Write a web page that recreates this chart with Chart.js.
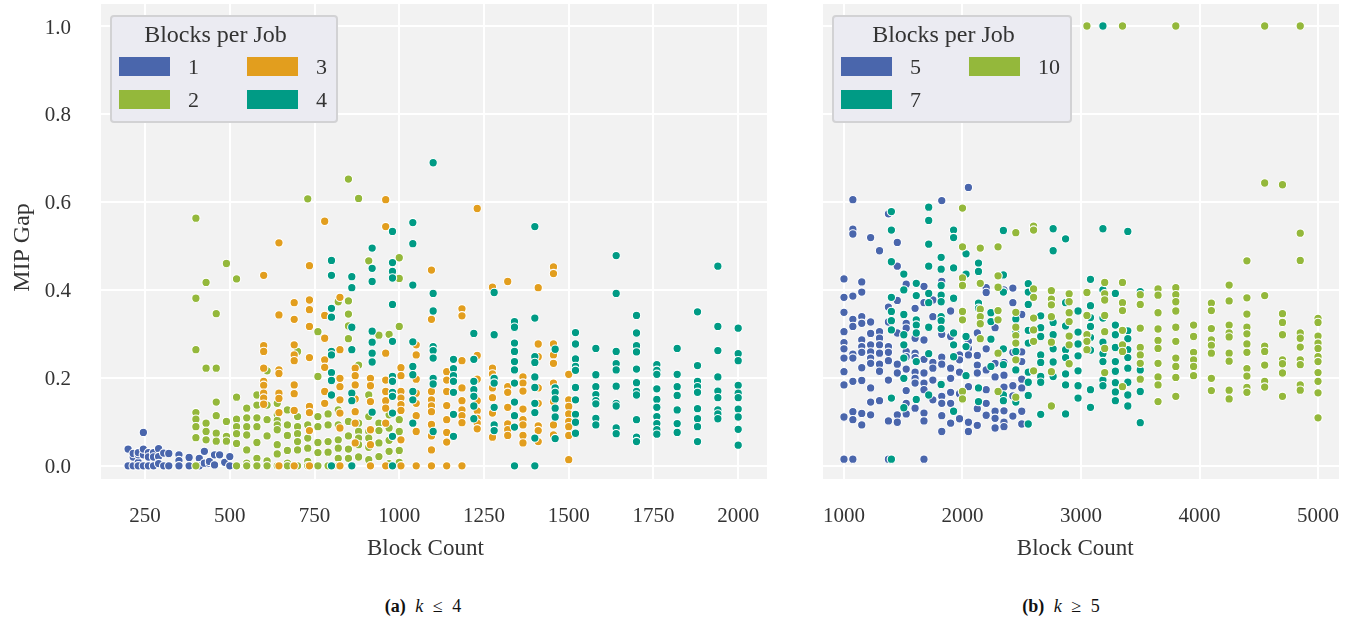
<!DOCTYPE html>
<html>
<head>
<meta charset="utf-8">
<title>MIP Gap</title>
<script src="https://cdn.jsdelivr.net/npm/chart.js@4"></script>
<style>
  html, body { margin: 0; padding: 0; background: #fff; }
  body { position: relative; width: 1347px; height: 621px; overflow: hidden; font-family: "Liberation Serif", serif; color: #333; }
  canvas { position: absolute; top: 0; }
  .legend { position: absolute; top: 15px; height: 104px; background: rgba(234,234,241,0.95); border: 2px solid #d2d2d4; border-radius: 4px; box-sizing: content-box; }
  .legend div { position: absolute; }
  .legend .title { top: 4px; left: 0; right: 17px; text-align: center; font-size: 24px; }
  .legend .swatch { width: 51px; height: 19px; }
  .legend .label { font-size: 22px; line-height: 22px; }
  .caption { position: absolute; top: 596px; font-size: 18px; word-spacing: 5px; text-align: center; width: 200px; color: #111; }
</style>
</head>
<body>
<canvas id="chartA" width="790" height="570" style="left:0"></canvas>
<canvas id="chartB" width="557" height="570" style="left:790px"></canvas>
<div class="caption" style="left:323px"><b>(a)</b> <i>k</i> &le; 4</div>
<div class="caption" style="left:961px"><b>(b)</b> <i>k</i> &ge; 5</div>
<script>
const yTicks = [0, 0.2, 0.4, 0.6, 0.8, 1.0];
const xTicksA = [250, 500, 750, 1000, 1250, 1500, 1750, 2000];
const xTicksB = [1000, 2000, 3000, 4000, 5000];
const legendTitle = 'Blocks per Job';

const colorBlue = '#4A66AC';
const colorGreen = '#94B83B';
const colorOrange = '#E29E1E';
const colorTeal = '#009B85';

// k <= 4, one list of gaps per block count
const job1X = [200, 215, 230, 245, 260, 275, 290, 305, 320, 350, 380, 410, 425, 440, 455, 470, 485, 500];
const job1Y = [
  [0, .038], [.02, .028, 0], [.008, .025, .03, 0], [0, .025, .038, .076], [.03, .02, 0], [0, .03, .02],
  [.039, .021, .005], [.029, 0], [.028, 0], [.025, .012, 0], [.019, 0], [.017, 0], [.033, .006],
  [.006, .01], [.025, .002], [.025], [.008], [.021, 0]
];

const job2X = [400, 430, 460, 490, 520, 550, 580, 610, 640, 670, 700, 730, 760, 790, 820, 850, 880, 910, 940, 970, 1000];
const job2Y = [
  [.563, .381, .264, .121, .106, .089, .064, 0],
  [.417, .222, .097, .078, .059],
  [.346, .222, .145, .114, .074, .056],
  [.46, .101, .067, .056],
  [.425, .156, .106, .089, .073, .051, 0],
  [.131, .109, .089, .07, .036, .006, 0],
  [.161, .138, .109, .089, .053, .017, 0],
  [.216, .138, .105, .068, .011, 0],
  [.142, .116, .103, .093, .082, .048, .027, 0],
  [.127, .093, .069, .035, .006, 0],
  [.26, .112, .089, .073, .055, .036, 0],
  [.607, .093, .063, .04, .01, 0],
  [.305, .203, .112, .089, .053, .03, 0],
  [.118, .093, .055, .031, 0],
  [.373, .127, .093, .059, .04, .017, 0],
  [.652, .375, .345, .318, .289, .101, .068, .038, .017],
  [.608, .229, .097, .078, .063, .048, .02],
  [.466, .161, .112, .078, .063, .042, .014],
  [.297, .097, .08, .052, .021],
  [.299, .116, .086, .058, .033, .005],
  [.473, .426, .317, .105, .078, .035, .008]
];

const job3X = [600, 645, 690, 735, 780, 825, 870, 915, 960, 1005, 1050, 1095, 1140, 1185, 1230, 1275, 1320, 1365, 1410, 1455, 1500];
const job3Y = [
  [.433, .273, .26, .222, .192, .183, .165, .154, .14],
  [.507, .343, .218, .21, .165, .153, .121, 0],
  [.371, .333, .275, .252, .239, .184, .164, .126, 0],
  [.455, .377, .355, .317, .246, .135, .121, .08, 0],
  [.556, .342, .29, .241, .224, .169, .142],
  [.383, .264, .199, .18, .15, .12, .086, 0],
  [.222, .205, .184, .152, .123, .097, .052],
  [.199, .182, .146, .082, .048, 0],
  [.605, .544, .256, .195, .169, .148, .131, .097, 0],
  [.223, .205, .169, .154, .139, .126, .059, 0],
  [.275, .252, .197, .165, .142, .114, .078, 0],
  [.445, .333, .169, .15, .136, .123, .094, .068, .036, 0],
  [.214, .195, .169, .137, .105, .076, .054, 0],
  [.357, .341, .239, .177, .148, .127, .114, .098, 0],
  [.585, .251, .197, .148, .125, .108, .097, .084],
  [.406, .222, .209, .177, .155, .12, .065],
  [.419, .18, .167, .133, .095, .082, .069],
  [.202, .188, .17, .129, .105, .093, .069, .052],
  [.405, .277, .248, .177, .142, .091, .08, .055],
  [.452, .437, .277, .252, .233, .188, .146, .093, .07],
  [.208, .15, .135, .118, .101, .089, .069, .014]
];

const job4X = [800, 860, 920, 980, 1040, 1100, 1160, 1220, 1280, 1340, 1400, 1460, 1520, 1580, 1640, 1700, 1760, 1820, 1880, 1940, 2000];
const job4Y = [
  [.467, .433, .358, .338, .26, .252, .212, .194, .161, 0],
  [.43, .405, .315, .264, .165, .148, 0],
  [.495, .449, .419, .306, .281, .256, .236, .122],
  [.533, .462, .442, .427, .367, .283, .203, .192, .167, .158, .12, .067, 0],
  [.553, .505, .411, .282, .226, .207, .169, .15, .097],
  [.689, .392, .352, .271, .262, .245, .199, .186, .078],
  [.242, .221, .205, .192, .167, .117, .067],
  [.301, .242, .192, .173, .158, .136, .107],
  [.394, .298, .199, .188, .133, .093, .08],
  [.328, .315, .279, .26, .237, .218, .188, .145, .114, .088, 0],
  [.544, .336, .248, .235, .202, .178, .142, .121, .063, 0],
  [.265, .177, .167, .152, .131, .111, .062],
  [.303, .277, .243, .226, .217, .178, .15, .117, .099, .074],
  [.267, .207, .18, .162, .148, .141, .108, .093],
  [.478, .392, .26, .232, .218, .181, .142, .136, .086, .073],
  [.342, .302, .273, .259, .22, .189, .169, .161, .105, .065, .055],
  [.23, .217, .208, .175, .151, .133, .112, .096, .082, .072],
  [.267, .208, .18, .16, .127, .096, .076],
  [.35, .228, .192, .18, .167, .13, .107, .089, .055],
  [.454, .317, .262, .202, .17, .155, .127, .118, .107],
  [.313, .255, .239, .183, .165, .155, .129, .111, .083, .047]
];

// k >= 5
const job5X = [1000, 1075, 1150, 1225, 1300, 1375, 1450, 1525, 1600, 1675, 1750, 1825, 1900, 1975, 2050, 2125, 2200, 2275, 2350, 2425, 2500];
const job5Y = [
  [.425, .383, .349, .305, .28, .266, .245, .214, .184, .111, .015],
  [.605, .538, .527, .386, .333, .317, .254, .245, .192, .123, .105, .015],
  [.418, .395, .339, .324, .286, .271, .258, .223, .194, .119, .093],
  [.519, .327, .301, .275, .259, .245, .233, .177, .145, .116],
  [.489, .305, .29, .275, .256, .231, .215, .148],
  [.573, .361, .327, .271, .258, .239, .195, .102, .015],
  [.508, .454, .376, .302, .231, .211, .116, .099],
  [.413, .324, .313, .26, .248, .22, .171, .142, .118],
  [.358, .29, .256, .246, .213, .199, .188, .131],
  [.408, .371, .286, .242, .211, .188, .173, .12, .102, .015],
  [.377, .339, .235, .222, .195, .15],
  [.603, .419, .299, .247, .231, .158, .142, .114, .078],
  [.352, .294, .222, .199, .167, .142, .097],
  [.252, .241, .213, .164, .107],
  [.633, .283, .267, .252, .18, .099, .078],
  [.302, .251, .229, .211, .13, .092],
  [.405, .394, .266, .218, .173, .142, .115],
  [.314, .233, .202, .124, .108, .086],
  [.4, .235, .206, .179, .125, .099, .089],
  [.404, .371, .258, .182, .159, .113],
  [.344, .259, .237, .197, .177, .124, .095]
];

const job7X = [1400, 1505, 1610, 1715, 1820, 1925, 2030, 2135, 2240, 2345, 2450, 2555, 2660, 2765, 2870, 2975, 3080, 3185, 3290, 3395, 3500];
const job7Y = [
  [.578, .536, .464, .383, .351, .33, .309, .154, .015],
  [.436, .4, .344, .298, .275, .245, .199, .132],
  [.415, .387, .332, .32, .302, .237, .151],
  [.588, .558, .504, .454, .392, .371, .315, .255, .161],
  [.474, .447, .41, .388, .373, .339, .33, .312, .185],
  [.536, .519, .45, .381, .302, .275, .248, .124],
  [.482, .436, .294, .271, .205],
  [.461, .442, .37, .358, .177, .146],
  [.348, .328, .288, .226],
  [.535, .434, .395, .266, .23, .161, .148],
  [.334, .302, .26, .218, .145],
  [.414, .395, .367, .308, .279, .213, .19, .16, .095],
  [.341, .314, .294, .252, .235, .203, .19, .117],
  [.539, .489, .326, .298, .266, .236, .203],
  [.516, .371, .318, .264, .246, .209, .184, .118],
  [.352, .304, .277, .25, .216, .182, .154],
  [.424, .364, .337, .317, .292, .263, .173, .133],
  [1.0, .539, .4, .336, .281, .255, .237, .195, .182],
  [.392, .32, .298, .269, .237, .215, .189, .168, .148],
  [.533, .307, .289, .264, .246, .222, .19, .161, .136],
  [.396, .218, .169, .098]
];

const job10X = [2000, 2150, 2300, 2450, 2600, 2750, 2900, 3050, 3200, 3350, 3500, 3650, 3800, 3950, 4100, 4250, 4400, 4550, 4700, 4850, 5000];
const job10Y = [
  [.586, .498, .427, .41, .351, .332, .169, .152],
  [.495, .415, .356, .339, .323, .289],
  [.498, .432, .406, .353, .332, .256, .169],
  [.53, .349, .315, .296, .279, .241, .156],
  [.545, .536, .402, .383, .336, .309, .283, .216],
  [.398, .379, .366, .339, .281, .214, .136],
  [.391, .373, .348, .328, .295, .275, .232],
  [1.0, .394, .342, .298, .283, .264],
  [.417, .391, .377, .342, .305, .267, .212],
  [1.0, .417, .371, .353, .308, .275, .26, .18],
  [.389, .367, .313, .269, .252, .233, .197],
  [.402, .388, .348, .311, .285, .267, .233, .202, .184, .146],
  [1.0, .405, .389, .373, .352, .315, .283, .245, .226, .201, .158],
  [.32, .294, .258, .241, .226, .205],
  [.37, .353, .312, .286, .274, .256, .199, .171],
  [.411, .375, .32, .302, .293, .256, .238, .172, .152],
  [.466, .382, .345, .315, .3, .277, .258, .221, .204, .178, .167],
  [1.0, .643, .387, .272, .26, .229, .192, .179],
  [.639, .346, .326, .298, .241, .232, .211, .158],
  [1.0, .529, .467, .302, .29, .27, .241, .23, .184, .172],
  [.335, .326, .295, .279, .267, .248, .237, .212, .192, .166, .109]
];

function toPoints(xs, ys) {
  return xs.flatMap((x, i) => ys[i].map(y => ({ x: x, y: y })));
}

function series(label, color, xs, ys, order) {
  return {
    label: label,
    data: toPoints(xs, ys),
    order: order,
    backgroundColor: color,
    borderColor: '#fff',
    borderWidth: 1.1,
    pointRadius: 4.2,
    pointHoverRadius: 4.2
  };
}

const plotBackground = {
  id: 'plotBackground',
  beforeDraw(chart) {
    const a = chart.chartArea;
    chart.ctx.fillStyle = '#f2f2f2';
    chart.ctx.fillRect(a.left, a.top, a.right - a.left, a.bottom - a.top);
  }
};

// labels must not grow the plot area, its edges are fixed by the reference
function dropPadding(s) {
  s.paddingTop = 0;
  s.paddingBottom = 0;
  s.paddingLeft = 0;
  s.paddingRight = 0;
}

// trailing spaces in xTitle nudge it left of the plot centre, as in the reference
function makePanel(id, datasets, xMin, xMax, xTicks, xTitle, showY, leftWidth, rightPad) {
  new Chart(document.getElementById(id), {
    type: 'scatter',
    data: { datasets: datasets },
    plugins: [plotBackground],
    options: {
      responsive: false,
      animation: false,
      layout: { autoPadding: false, padding: { top: 4, right: rightPad, bottom: 0, left: 0 } },
      plugins: { legend: { display: false }, tooltip: { enabled: false } },
      scales: {
        x: {
          type: 'linear',
          min: xMin,
          max: xMax,
          afterBuildTicks: s => { s.ticks = xTicks.map(v => ({ value: v })); },
          afterFit: s => { s.height = 91; dropPadding(s); },
          grid: { color: '#fff', lineWidth: 2, drawTicks: false },
          border: { display: false },
          ticks: {
            padding: 25,
            maxRotation: 0,
            autoSkip: false,
            color: '#333',
            font: { family: 'Liberation Serif', size: 21 },
            callback: v => String(v)
          },
          title: {
            display: true,
            text: xTitle,
            color: '#333',
            font: { family: 'Liberation Serif', size: 23 },
            padding: { top: 0, bottom: 7 }
          }
        },
        y: {
          type: 'linear',
          min: -0.03,
          max: 1.05,
          afterBuildTicks: s => { s.ticks = yTicks.map(v => ({ value: v })); },
          afterFit: s => { s.width = leftWidth; dropPadding(s); },
          grid: { color: '#fff', lineWidth: 2, drawTicks: false },
          border: { display: false },
          ticks: {
            display: showY,
            padding: 30,
            labelOffset: 2,
            color: '#333',
            font: { family: 'Liberation Serif', size: 21 },
            callback: v => v.toFixed(1)
          },
          title: {
            display: showY,
            text: 'MIP Gap  ',
            color: '#333',
            font: { family: 'Liberation Serif', size: 24 },
            padding: { top: 8, bottom: 0 }
          }
        }
      }
    }
  });
}

// first dataset in sort order is painted last
makePanel('chartA', [
  series('1', colorBlue, job1X, job1Y, 4),
  series('2', colorGreen, job2X, job2Y, 3),
  series('3', colorOrange, job3X, job3Y, 2),
  series('4', colorTeal, job4X, job4Y, 1)
], 120, 2085, xTicksA, 'Block Count   ', true, 101, 23);

makePanel('chartB', [
  series('5', colorBlue, job5X, job5Y, 3),
  series('7', colorTeal, job7X, job7Y, 2),
  series('10', colorGreen, job10X, job10Y, 1)
], 823, 5177, xTicksB, 'Block Count  ', false, 33, 8);

function addLegend(left, width, entries) {
  const box = document.createElement('div');
  box.className = 'legend';
  box.style.left = left + 'px';
  box.style.width = width + 'px';
  const title = document.createElement('div');
  title.className = 'title';
  title.textContent = legendTitle;
  box.appendChild(title);
  entries.forEach(e => {
    const swatch = document.createElement('div');
    swatch.className = 'swatch';
    swatch.style.cssText = 'left:' + e.sx + 'px;top:' + e.top + 'px;background:' + e.color;
    box.appendChild(swatch);
    const label = document.createElement('div');
    label.className = 'label';
    label.style.cssText = 'left:' + e.lx + 'px;top:' + (e.top - 1) + 'px';
    label.textContent = e.text;
    box.appendChild(label);
  });
  document.body.appendChild(box);
}

addLegend(110, 224, [
  { text: '1', color: colorBlue, sx: 7, lx: 76, top: 40 },
  { text: '2', color: colorGreen, sx: 7, lx: 76, top: 73 },
  { text: '3', color: colorOrange, sx: 135, lx: 204, top: 40 },
  { text: '4', color: colorTeal, sx: 135, lx: 204, top: 73 }
]);

addLegend(832, 236, [
  { text: '5', color: colorBlue, sx: 7, lx: 76, top: 40 },
  { text: '7', color: colorTeal, sx: 7, lx: 76, top: 73 },
  { text: '10', color: colorGreen, sx: 135, lx: 204, top: 40 }
]);
</script>
</body>
</html>
